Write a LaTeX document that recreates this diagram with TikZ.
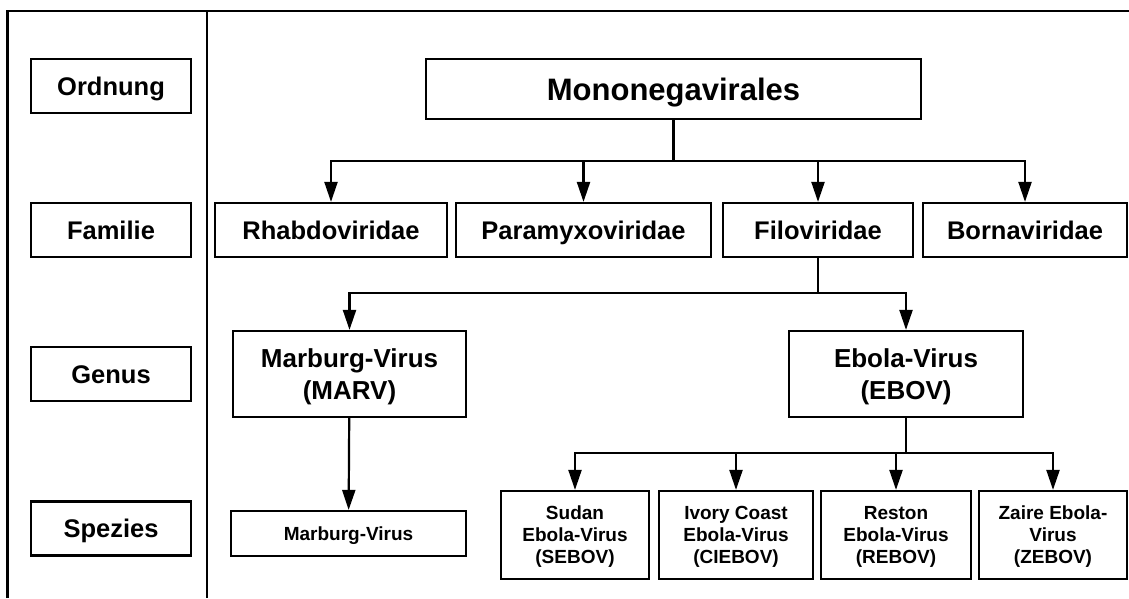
\documentclass[tikz,border=0pt]{standalone}
\usepackage{fontspec}
\setmainfont{Liberation Sans}
\usetikzlibrary{arrows.meta, positioning}

\begin{document}
\begin{tikzpicture}[x=1pt, y=-1pt, >={Triangle[length=20pt, width=13pt]},
  line width=2.2pt,
  rank/.style={draw, inner sep=0pt, minimum width=160pt, minimum height=54pt,
    text height=18.3pt, text depth=0pt,
    font=\fontsize{25.5}{30}\selectfont\bfseries},
  family/.style={draw, inner sep=0pt, minimum height=54pt,
    text height=18.3pt, text depth=0pt,
    font=\fontsize{25.5}{30}\selectfont\bfseries},
  genus/.style={draw, inner sep=0pt, minimum height=86pt, align=center,
    text depth=0pt, font=\fontsize{26}{32}\selectfont\bfseries},
  species/.style={draw, inner sep=0pt, minimum height=88pt, align=center,
    text depth=0pt, font=\fontsize{19}{22}\selectfont\bfseries}]
  \useasboundingbox (0,0) rectangle (1129,598);

  % frame
  \draw (7.5,598) -- (7.5,11) -- (1129,11);
  \draw (207,11) -- (207,598);

  % rank labels
  \node[rank] (ordnung) at (111,86) {Ordnung};
  \node[rank] (familie) at (111,230) {Familie};
  \node[rank] (genus) at (111,374) {Genus};
  \node[rank] (spezies) at (111,528.5) {Spezies};

  % order
  \node[draw, inner sep=0pt, minimum width=495pt, minimum height=60pt,
    text height=22.2pt, text depth=0pt,
    font=\fontsize{31}{36}\selectfont\bfseries] (mono) at (673.5,89) {Mononegavirales};

  % families
  \node[family, minimum width=232pt] (rhabdo) at (331,230) {Rhabdoviridae};
  \node[family, minimum width=255pt] (paramyxo) at (583.5,230) {Paramyxoviridae};
  \node[family, minimum width=190pt] (filo) at (818,230) {Filoviridae};
  \node[family, minimum width=204pt] (borna) at (1025,230) {Bornaviridae};

  % genera
  \node[genus, minimum width=233pt] (marv) at (349.5,374) {Marburg-Virus\\(MARV)};
  \node[genus, minimum width=234pt] (ebov) at (906,374) {Ebola-Virus\\(EBOV)};

  % species
  \node[species, minimum width=235pt, minimum height=45pt, text height=13.6pt]
    (marvsp) at (348.5,533.5) {Marburg-Virus};
  \node[species, minimum width=148pt] (sebov) at (575,535) {Sudan\\Ebola-Virus\\(SEBOV)};
  \node[species, minimum width=154pt] (ciebov) at (736,535) {Ivory Coast\\Ebola-Virus\\(CIEBOV)};
  \node[species, minimum width=150pt] (rebov) at (896,535) {Reston\\Ebola-Virus\\(REBOV)};
  \node[species, minimum width=148pt] (zebov) at (1053,535) {Zaire Ebola-\\Virus\\(ZEBOV)};

  % branch points
  \coordinate (bus1) at (673.5,161);
  \coordinate (bus2) at (818,293);
  \coordinate (bus3) at (906,453);

  \draw (mono) -- (bus1);
  \draw[->] (bus1) -| (rhabdo);
  \draw[->] (bus1) -| (paramyxo);
  \draw[->] (bus1) -| (filo);
  \draw[->] (bus1) -| (borna);

  \draw (filo) -- (bus2);
  \draw[->] (bus2) -| (marv);
  \draw[->] (bus2) -| (ebov);

  \draw[->] (marv) -- (marvsp);

  \draw (ebov) -- (bus3);
  \draw[->] (bus3) -| (sebov);
  \draw[->] (bus3) -| (ciebov);
  \draw[->] (bus3) -| (rebov);
  \draw[->] (bus3) -| (zebov);
\end{tikzpicture}
\end{document}
